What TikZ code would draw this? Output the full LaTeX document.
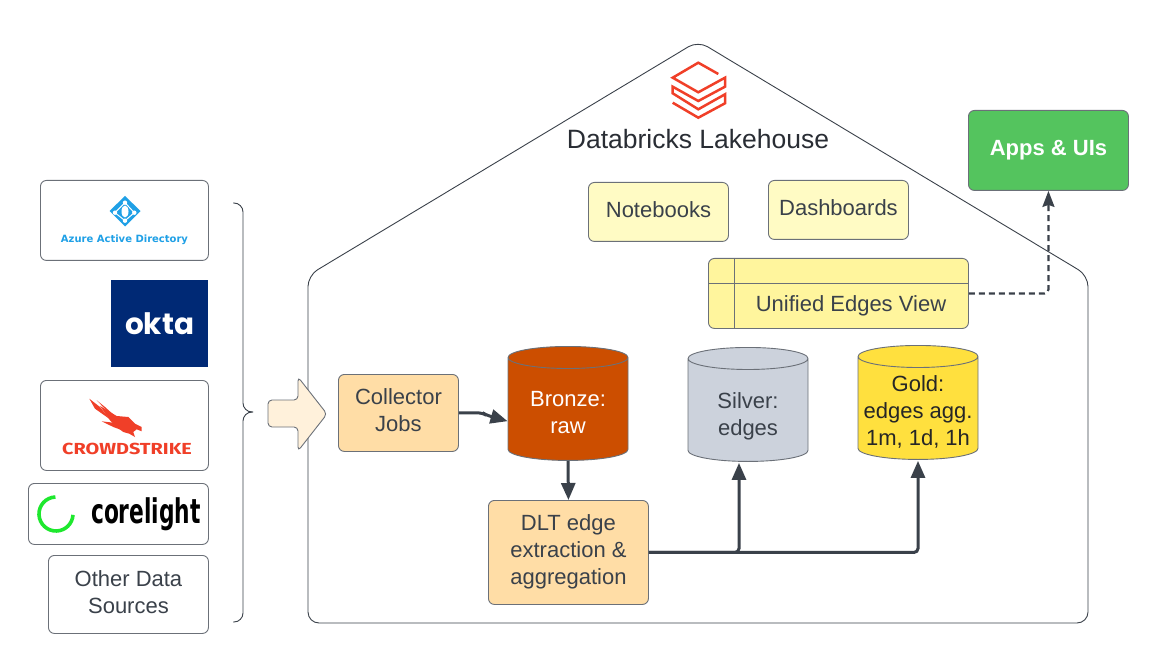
\documentclass[tikz,border=0pt]{standalone}
\usepackage{fontspec}
\usepackage{tikz}
\setmainfont{Liberation Sans}
\newfontfamily\azurefont{DejaVu Sans}
\newfontfamily\oktafont{Poppins}
\newfontfamily\strikefont[FakeStretch=1.24]{Fira Sans}
\newfontfamily\corefont[FakeStretch=0.64]{DejaVu Sans}
\usetikzlibrary{calc,shapes.geometric,arrows.meta}
\definecolor{inkgray}{HTML}{3A414A}
\definecolor{edgegray}{HTML}{6B7078}
\definecolor{jobfill}{HTML}{FFDDA6}
\definecolor{notefill}{HTML}{FFFBC4}
\definecolor{viewfill}{HTML}{FFF59D}
\definecolor{brickred}{HTML}{F03F28}
\definecolor{azureblue}{HTML}{1FA0E6}
\definecolor{oktablue}{HTML}{002975}
\definecolor{coregreen}{HTML}{1EE82E}
\definecolor{bronzefill}{HTML}{CC4E00}
\definecolor{silverfill}{HTML}{CCD2DC}
\definecolor{goldfill}{HTML}{FFE03E}
\definecolor{appsfill}{HTML}{54C45E}
\newcommand{\cylbody}{\hspace*{49pt}}
\tikzset{
  srcbox/.style={draw=edgegray,fill=white,rounded corners=6pt,line width=0.9pt,text=inkgray,
    font=\fontsize{22}{27}\selectfont,align=center,inner sep=0pt,anchor=north west,text depth=5.5pt},
  jobbox/.style={srcbox,fill=jobfill},
  notebox/.style={srcbox,fill=notefill},
  tablecyl/.style={cylinder,shape border rotate=90,draw=edgegray,line width=0.9pt,aspect=0.45,
    minimum width=120pt,minimum height=114pt,inner sep=0pt,anchor=north},
  cyltext/.style={text=inkgray,align=center,font=\fontsize{22}{27}\selectfont,text depth=5.5pt},
  flow/.style={draw=inkgray,line width=3pt,rounded corners=4pt,-{Triangle[length=17pt,width=14pt]}},
  dashflow/.style={flow,line width=2.2pt,dash pattern=on 6pt off 4pt,
    -{Stealth[length=16pt,width=12pt,inset=2pt]}}
}
\begin{document}
\begin{tikzpicture}[x=1pt,y=-1pt]
  \useasboundingbox (0,0) rectangle (1165,655);
  \draw[line width=0.9pt,draw=inkgray,rounded corners=11pt]
    (308,623) -- (308,275.5) -- (698,41) -- (1088,275.5) -- (1088,623) -- cycle;
  \draw[brickred,line width=2.5pt] (718.3,74) -- (698.3,62.7) -- (672.7,77.7) -- (698.3,92.3)
    -- (725,77.7) -- (725,86.7) -- (698.3,101) -- (672.7,86.7) -- (672.7,93.3) -- (698.3,109.3)
    -- (725,94.3) -- (725,103.3) -- (698.3,117.7) -- (672.7,102.7);
  \node[text=inkgray!70!black,font=\fontsize{26.5}{32}\selectfont] (lakehouse) at (698,139) {Databricks Lakehouse};

  \node[srcbox,minimum width=168pt,minimum height=80pt] (azure) at (40,180) {};
  \fill[azureblue] (125,196) -- (140.5,211) -- (125,226.5) -- (109.5,211) -- cycle;
  \draw[white,line width=1pt] (125,202.7) -- (115,212.7) -- (125,220.7) -- (134.3,212.7) -- cycle;
  \fill[white] (125,202.7) circle (2.2) (115,212.7) circle (2.2) (125,220.7) circle (2.2) (134.3,212.7) circle (2.2);
  \fill[white] (125,211.5) ellipse (3.5 and 6);
  \node[text=azureblue,font=\azurefont\bfseries\fontsize{10}{12}\selectfont] (azuretxt) at (124.5,239.5) {Azure Active Directory};

  \node[fill=oktablue,minimum width=97pt,minimum height=87pt,inner sep=0pt,anchor=north west,
    text=white,font=\oktafont\bfseries\fontsize{29.5}{32}\selectfont] (okta) at (111,280) {okta};

  \node[srcbox,minimum width=168pt,minimum height=90pt] (crowd) at (40,380) {};
  \fill[brickred] (89.3,398.7) -- (95,408.7) -- (110,419.3) -- (100,407) -- cycle;
  \fill[brickred] (96.7,400.3) -- (108,412) -- (115,416) -- (105,407) -- cycle;
  \fill[brickred] (100,406) -- (116.7,416) -- (128.3,417) -- (135,423.7) -- (141.7,427) -- (141.7,431.3)
    -- (136.7,429.3) -- (133.3,432) -- (135,437) -- (129.3,433.7) -- (123.3,432) -- (116.7,427) -- (110,420.3) -- cycle;
  \fill[brickred] (101.7,421.3) -- (113.3,422.7) -- (125,431.3) -- (113.3,427) -- cycle;
  \node[text=brickred,font=\strikefont\bfseries\fontsize{16}{18}\selectfont] (crowdtxt) at (127,449) {CROWDSTRIKE};

  \node[srcbox,minimum width=180pt,minimum height=61pt] (core) at (28,483) {};
  \draw[coregreen,line width=3.6pt] (55.4,497) arc (-92:-357:17);
  \node[text=black,font=\corefont\bfseries\fontsize{34}{40}\selectfont] (coretxt) at (146,514) {corelight};

  \node[srcbox,minimum width=160pt,minimum height=78pt] (other) at (48,555) {Other Data\\Sources};

  \draw[line width=0.9pt,draw=inkgray,rounded corners=9pt]
    (233,203) -- (243,203) -- (243,412) -- (253,412);
  \draw[line width=0.9pt,draw=inkgray,rounded corners=9pt]
    (253,412) -- (243,412) -- (243,622) -- (233,622);

  \draw[draw=edgegray,fill=jobfill!40,line width=0.9pt,rounded corners=4pt]
    (268,400) -- (298,400) -- (298,377) -- (327,414) -- (298,451) -- (298,427) -- (268,427) -- cycle;

  \node[jobbox,minimum width=120pt,minimum height=77pt] (collector) at (338,374) {Collector\\Jobs};
  \node[tablecyl,fill=bronzefill] (bronze) at (568,346) {\cylbody};
  \node[cyltext,text=white] (bronzetxt) at ($(bronze.center)+(0,5.5)$) {Bronze:\\raw};
  \node[tablecyl,fill=silverfill] (silver) at (748,347) {\cylbody};
  \node[cyltext] (silvertxt) at ($(silver.center)+(0,6.5)$) {Silver:\\edges};
  \node[tablecyl,fill=goldfill] (gold) at (918,345) {\cylbody};
  \node[cyltext,text=black!85] (goldtxt) at ($(gold.center)+(0,5.5)$) {Gold:\\edges agg.\\1m, 1d, 1h};
  \node[jobbox,minimum width=160pt,minimum height=104pt] (dlt) at (488,500) {DLT edge\\extraction \&\\aggregation};

  \node[notebox,minimum width=140pt,minimum height=59pt] (notebooks) at (588,182) {Notebooks};
  \node[notebox,minimum width=140pt,minimum height=59pt] (dashboards) at (768,180) {Dashboards};
  \node[srcbox,fill=viewfill,minimum width=260pt,minimum height=70pt] (view) at (708,258) {};
  \draw[draw=edgegray,line width=0.9pt] (view.north west) ++(26,0) -- ++(0,70);
  \draw[draw=edgegray,line width=0.9pt] (view.north west) ++(0,25) -- ++(260,0);
  \node[text=inkgray,font=\fontsize{22}{27}\selectfont] (viewtxt) at (851,305.5) {Unified Edges View};
  \node[srcbox,fill=appsfill,text=white,minimum width=160pt,minimum height=80pt,
    font=\bfseries\fontsize{22}{27}\selectfont] (apps) at (968,110) {Apps \& UIs};

  \draw[flow] (collector.east) -- ++(24,0) -- ++(3,2) -- ($(bronze.west)+(0,12)$);
  \draw[flow] (bronze.south) -- (dlt.north);
  \draw[flow] (dlt.east) -| ($(silver.south)+(-9,1)$);
  \draw[flow] (dlt.east) -| ($(gold.south)+(0,1)$);
  \draw[dashflow] (view.east) -| (apps.south);
\end{tikzpicture}
\end{document}
